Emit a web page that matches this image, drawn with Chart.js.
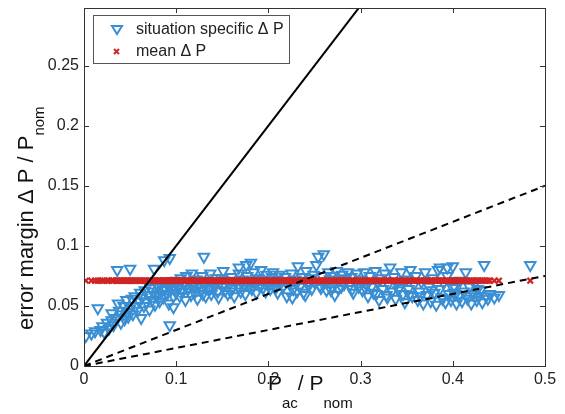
<!DOCTYPE html>
<html>
<head>
<meta charset="utf-8">
<script src="https://cdn.jsdelivr.net/npm/chart.js@4.4.0/dist/chart.umd.min.js"></script>
<style>
html,body{margin:0;padding:0;background:#fff;}
#wrap{width:565px;height:414px;}
</style>
</head>
<body>
<div id="wrap"><canvas id="c" width="565" height="414"></canvas></div>
<script>
// ---- data ----
const specX = [0.002,0.008,0.012,0.015,0.018,0.02,0.022,0.025,0.027,0.03,0.03,0.032,0.035,0.036,0.037,0.038,0.04,0.041,0.043,0.044,0.046,0.047,0.048,0.05,0.05,0.052,
0.053,0.055,0.056,0.058,0.06,0.061,0.062,0.063,0.065,0.066,0.068,0.07,0.071,0.072,0.074,0.075,0.076,0.077,0.078,0.08,0.081,0.082,0.083,0.085,0.086,0.087,0.088,0.089,0.09,0.091,0.092,0.093,0.094,0.095,0.097,0.098,0.1,0.1,0.093,0.097,
0.102,0.104,0.105,0.107,0.108,0.11,0.111,0.113,0.114,0.116,0.117,0.119,0.12,0.122,0.123,0.125,0.127,0.128,0.13,0.131,0.132,0.134,0.135,0.137,0.138,0.14,0.141,0.143,0.145,0.146,0.148,0.15,0.151,0.153,0.155,0.156,0.158,0.16,0.161,0.163,0.165,0.167,0.168,0.17,0.172,0.174,0.175,0.177,0.179,0.18,0.182,0.184,0.185,0.187,0.189,0.19,0.192,0.194,0.195,0.197,0.198,0.176,0.181,0.168,
0.106,0.118,0.129,0.139,0.149,0.159,0.171,0.183,0.193,
0.2,0.202,0.204,0.205,0.207,0.209,0.21,0.212,0.214,0.216,0.218,0.22,0.222,0.223,0.225,0.227,0.229,0.23,0.232,0.234,0.236,0.238,0.24,0.241,0.243,0.245,0.247,0.249,0.25,0.252,0.254,0.256,0.258,0.26,0.261,0.263,0.265,0.267,0.269,0.27,0.272,0.274,0.276,0.278,0.28,0.282,0.284,0.286,0.288,0.29,0.292,0.294,0.296,0.298,0.226,0.24,0.272,
0.208,0.219,0.231,0.244,0.257,0.268,0.279,0.291,
0.3,0.302,0.304,0.306,0.308,0.31,0.312,0.314,0.316,0.318,0.32,0.322,0.324,0.326,0.328,0.33,0.332,0.334,0.336,0.338,0.34,0.342,0.344,0.346,0.348,0.35,0.352,0.354,0.356,0.358,0.36,0.362,0.364,0.366,0.368,0.37,0.372,0.374,0.376,0.378,0.38,0.382,0.384,0.386,0.388,0.39,0.392,0.394,0.396,0.398,0.4,0.402,0.404,0.406,0.408,0.41,0.412,0.414,0.416,0.418,0.42,0.422,0.424,0.426,0.428,0.43,0.432,0.434,0.436,0.438,0.44,0.445,0.45,0.484,0.386,0.394,0.4,0.401,
0.305,0.317,0.329,0.341,0.353,0.365,0.377,0.389,0.403,0.415,0.427];
const specY = [0.025,0.027,0.029,0.048,0.03,0.033,0.028,0.036,0.031,0.038,0.044,0.034,0.04,0.08,0.052,0.046,0.036,0.043,0.05,0.039,0.055,0.045,0.041,0.081,0.048,0.056,
0.043,0.058,0.05,0.046,0.054,0.061,0.04,0.057,0.05,0.063,0.053,0.059,0.047,0.065,0.055,0.062,0.081,0.051,0.058,0.066,0.06,0.054,0.068,0.063,0.057,0.088,0.065,0.07,0.06,0.067,0.052,0.09,0.063,0.069,0.058,0.065,0.071,0.061,0.034,0.049,
0.066,0.058,0.073,0.062,0.069,0.055,0.075,0.064,0.07,0.059,0.077,0.066,0.061,0.072,0.056,0.068,0.063,0.075,0.091,0.066,0.058,0.071,0.064,0.077,0.06,0.069,0.066,0.073,0.062,0.057,0.07,0.066,0.079,0.063,0.071,0.06,0.068,0.074,0.065,0.058,0.07,0.066,0.077,0.062,0.072,0.068,0.06,0.075,0.066,0.071,0.064,0.078,0.069,0.061,0.073,0.067,0.08,0.065,0.071,0.062,0.076,0.084,0.086,0.082,
0.064,0.068,0.06,0.065,0.073,0.062,0.069,0.066,0.072,
0.069,0.064,0.074,0.078,0.067,0.072,0.061,0.076,0.07,0.066,0.074,0.058,0.071,0.068,0.077,0.064,0.072,0.069,0.083,0.066,0.074,0.061,0.071,0.079,0.068,0.073,0.064,0.076,0.07,0.084,0.091,0.067,0.075,0.093,0.07,0.063,0.078,0.072,0.066,0.075,0.069,0.079,0.064,0.072,0.076,0.068,0.073,0.078,0.067,0.074,0.061,0.07,0.077,0.066,0.057,0.059,0.059,
0.065,0.07,0.062,0.067,0.065,0.063,0.066,0.064,
0.072,0.063,0.078,0.068,0.058,0.075,0.066,0.061,0.079,0.07,0.055,0.073,0.064,0.077,0.059,0.068,0.082,0.062,0.074,0.056,0.07,0.065,0.078,0.06,0.053,0.072,0.064,0.08,0.058,0.068,0.075,0.055,0.062,0.07,0.052,0.078,0.059,0.066,0.054,0.073,0.061,0.051,0.08,0.064,0.057,0.069,0.053,0.075,0.06,0.055,0.083,0.066,0.052,0.058,0.071,0.054,0.062,0.078,0.056,0.066,0.052,0.06,0.069,0.055,0.058,0.063,0.053,0.084,0.058,0.056,0.06,0.057,0.059,0.084,0.082,0.082,0.065,0.061,
0.065,0.06,0.057,0.063,0.059,0.058,0.063,0.056,0.06,0.058,0.064];
const meanDeltaP = 0.071;              // mean ΔP / P_nom
const meanX = specX;                   // mean evaluated at the same operating points
const meanY = meanX.map(() => meanDeltaP);
const solidLineX = [0, 0.3], solidLineY = [0, 0.3];
const dash1X = [0, 0.5], dash1Y = [0, 0.15];
const dash2X = [0, 0.5], dash2Y = [0, 0.075];
const xTicks = [0, 0.1, 0.2, 0.3, 0.4, 0.5];
const yTicks = [0, 0.05, 0.1, 0.15, 0.2, 0.25];
const legendLabels = ['situation specific \u0394 P', 'mean \u0394 P'];

const FONT = '"Liberation Sans", Arial, Helvetica, sans-serif';
const BLUE = '#3a8fd4', RED = '#d02525';
const pts = (xs, ys) => xs.map((x, i) => ({x: x, y: ys[i]}));

const framePlugin = {
  id: 'frame',
  afterDraw(chart) {
    const ctx = chart.ctx, a = chart.chartArea;
    const xs = chart.scales.x, ys = chart.scales.y;
    ctx.save();
    ctx.strokeStyle = '#333'; ctx.lineWidth = 1;
    ctx.strokeRect(Math.round(a.left) + 0.5, Math.round(a.top) + 0.5, Math.round(a.right - a.left), Math.round(a.bottom - a.top));
    ctx.beginPath();
    const L = 5;
    xTicks.forEach(v => {
      const p = Math.round(xs.getPixelForValue(v)) + 0.5;
      ctx.moveTo(p, a.bottom); ctx.lineTo(p, a.bottom - L);
      ctx.moveTo(p, a.top); ctx.lineTo(p, a.top + L);
    });
    yTicks.forEach(v => {
      const p = Math.round(ys.getPixelForValue(v)) + 0.5;
      ctx.moveTo(a.left, p); ctx.lineTo(a.left + L, p);
      ctx.moveTo(a.right, p); ctx.lineTo(a.right - L, p);
    });
    ctx.stroke();

    // legend
    const bx = 93, by = 15, bw = 196, bh = 48;
    ctx.fillStyle = '#fff'; ctx.fillRect(bx, by, bw, bh);
    ctx.strokeStyle = '#555'; ctx.strokeRect(bx + 0.5, by + 0.5, bw, bh);
    ctx.fillStyle = '#222'; ctx.font = '16px ' + FONT; ctx.textBaseline = 'middle'; ctx.textAlign = 'left';
    ctx.strokeStyle = BLUE; ctx.lineWidth = 2;
    ctx.beginPath(); ctx.moveTo(112, 26); ctx.lineTo(122, 26); ctx.lineTo(117, 34); ctx.closePath(); ctx.stroke();
    ctx.fillText(legendLabels[0], 136, 30);
    ctx.strokeStyle = RED; ctx.lineWidth = 2;
    ctx.beginPath(); ctx.moveTo(114, 49); ctx.lineTo(119, 54); ctx.moveTo(119, 49); ctx.lineTo(114, 54); ctx.stroke();
    ctx.fillStyle = '#222';
    ctx.fillText(legendLabels[1], 136, 52);

    // x title: P_ac / P_nom
    ctx.fillStyle = '#111'; ctx.textBaseline = 'alphabetic';
    let x = 268, base = 390;
    ctx.font = '21px ' + FONT; ctx.fillText('P', x, base); x += ctx.measureText('P').width;
    ctx.font = '15px ' + FONT; ctx.fillText('ac', x, base + 18); x += ctx.measureText('ac').width;
    ctx.font = '21px ' + FONT; ctx.fillText('/ P', x, base); x += ctx.measureText('/ P').width;
    ctx.font = '15px ' + FONT; ctx.fillText('nom', x, base + 18);

    // y title
    ctx.save();
    ctx.translate(33, 330); ctx.rotate(-Math.PI / 2);
    let t = 0;
    ctx.font = '22px ' + FONT; const s1 = 'error margin \u0394 P / P';
    ctx.fillText(s1, t, 0); t += ctx.measureText(s1).width;
    ctx.font = '15px ' + FONT; ctx.fillText('nom', t, 11);
    ctx.restore();
    ctx.restore();
  }
};

new Chart(document.getElementById('c'), {
  type: 'scatter',
  data: {
    datasets: [
      {label: 'solid', data: pts(solidLineX, solidLineY), showLine: true, borderColor: '#000', borderWidth: 2, pointRadius: 0, order: 0},
      {label: 'dash1', data: pts(dash1X, dash1Y), showLine: true, borderColor: '#000', borderWidth: 2, borderDash: [7, 5], pointRadius: 0, order: 0},
      {label: 'dash2', data: pts(dash2X, dash2Y), showLine: true, borderColor: '#000', borderWidth: 2, borderDash: [7, 5], pointRadius: 0, order: 0},
      {label: legendLabels[1], data: pts(meanX, meanY), pointStyle: 'crossRot', pointRadius: 4, borderColor: RED, borderWidth: 2.2, order: 1},
      {label: legendLabels[0], data: pts(specX, specY), pointStyle: 'triangle', rotation: 180, pointRadius: 6, borderColor: BLUE, backgroundColor: 'rgba(0,0,0,0)', borderWidth: 2, order: 2}
    ]
  },
  options: {
    responsive: false, animation: false, devicePixelRatio: 1,
    layout: {padding: {left: 0, right: 20, top: 8, bottom: 0}},
    plugins: {legend: {display: false}, tooltip: {enabled: false}},
    scales: {
      x: {
        type: 'linear', min: 0, max: 0.5,
        afterBuildTicks: s => { s.ticks = xTicks.map(v => ({value: v})); },
        afterFit: s => { s.height = 48; s.paddingLeft = 0; s.paddingRight = 0; },
        grid: {display: false, drawTicks: false, tickLength: 0}, border: {display: false},
        ticks: {font: {family: FONT, size: 16}, color: '#222', padding: 4, maxRotation: 0, callback: v => String(v)}
      },
      y: {
        type: 'linear', min: 0, max: 0.298,
        afterBuildTicks: s => { s.ticks = yTicks.map(v => ({value: v})); },
        afterFit: s => { s.width = 84; s.paddingTop = 0; s.paddingBottom = 0; },
        grid: {display: false, drawTicks: false, tickLength: 0}, border: {display: false},
        ticks: {font: {family: FONT, size: 16}, color: '#222', padding: 5, callback: v => String(v)}
      }
    }
  },
  plugins: [framePlugin]
});
</script>
</body>
</html>
